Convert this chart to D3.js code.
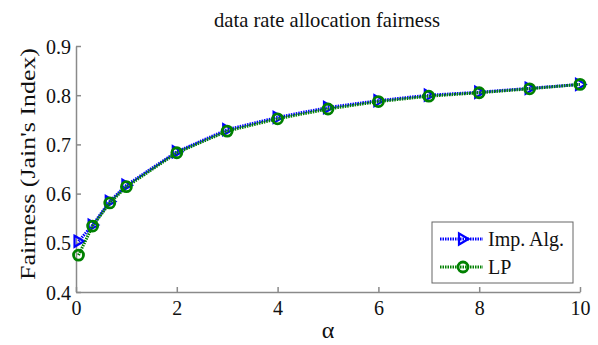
<!DOCTYPE html>
<html><head><meta charset="utf-8">
<script src="https://cdn.jsdelivr.net/npm/d3@7"></script>
<style>body{margin:0;background:#fff}svg{display:block}</style>
</head><body><svg id="c" width="598" height="345"></svg>
<script>
const alphas = [0.05, 0.33, 0.67, 1, 2, 3, 4, 5, 6, 7, 8, 9, 10];
const impAlg = [0.503, 0.536, 0.584, 0.617, 0.685, 0.730, 0.755, 0.775, 0.789, 0.800, 0.806, 0.814, 0.822];
const lp     = [0.475, 0.534, 0.581, 0.614, 0.683, 0.727, 0.752, 0.772, 0.787, 0.798, 0.805, 0.813, 0.822];
const xTicks = [0, 2, 4, 6, 8, 10];
const yTicks = [0.4, 0.5, 0.6, 0.7, 0.8, 0.9];

const FONT = "'Liberation Serif', 'Times New Roman', serif";
const svg = d3.select("#c");
const x = d3.scaleLinear().domain([0, 10]).range([76, 580]);
const y = d3.scaleLinear().domain([0.4, 0.9]).range([292, 46]);
const axisColor = "#8a8a8a";

function txt(sel, size) {
  return sel.style("font-family", FONT).style("font-size", size + "px").attr("fill", "#111");
}

const gx = svg.append("g").attr("transform", `translate(0,${y(0.4)})`)
  .call(d3.axisBottom(x).tickValues(xTicks).tickSizeInner(-5).tickSizeOuter(0).tickPadding(8).tickFormat(d3.format("d")));
const gy = svg.append("g").attr("transform", `translate(${x(0)},0)`)
  .call(d3.axisLeft(y).tickValues(yTicks).tickSizeInner(-5).tickSizeOuter(0).tickPadding(5).tickFormat(d3.format(".1f")));
[gx, gy].forEach(g => {
  g.attr("font-family", null).attr("font-size", null);
  g.selectAll("path,line").attr("stroke", axisColor).attr("stroke-width", 1.5);
  txt(g.selectAll("text"), 20);
});
gx.selectAll("text").attr("dy", "0.75em");
gy.selectAll("text").attr("dy", "0.35em");

txt(svg.append("text").attr("x", 327).attr("y", 27).attr("text-anchor", "middle")
  .attr("textLength", 226).attr("lengthAdjust", "spacingAndGlyphs"), 21)
  .text("data rate allocation fairness");
txt(svg.append("text").attr("x", 328).attr("y", 338).attr("text-anchor", "middle"), 24).text("α");
txt(svg.append("text").attr("transform", "translate(35,164) rotate(-90)").attr("text-anchor", "middle")
  .attr("textLength", 232).attr("lengthAdjust", "spacingAndGlyphs"), 21)
  .text("Fairness (Jain's Index)");

const line = d3.line().x(d => x(d[0])).y(d => y(d[1]));
const impData = alphas.map((a, i) => [a, impAlg[i]]);
const lpData = alphas.map((a, i) => [a, lp[i]]);
const blue = "#0000ff", green = "#008000";
const tri = "M-4,-5.5 L5.5,0 L-4,5.5 Z";

function drawSeries(data, color, marker) {
  svg.append("path").datum(data).attr("d", line).attr("fill", "none")
    .attr("stroke", color).attr("stroke-width", 3).attr("stroke-dasharray", "1.5,1");
  const g = svg.append("g");
  data.forEach(d => {
    if (marker === "tri") {
      g.append("path").attr("d", tri).attr("transform", `translate(${x(d[0])},${y(d[1])})`)
        .attr("fill", "none").attr("stroke", color).attr("stroke-width", 2.2);
    } else {
      g.append("circle").attr("cx", x(d[0])).attr("cy", y(d[1])).attr("r", 5)
        .attr("fill", "none").attr("stroke", color).attr("stroke-width", 2.8);
    }
  });
}
drawSeries(impData, blue, "tri");
drawSeries(lpData, green, "circ");

const lg = svg.append("g");
lg.append("rect").attr("x", 432).attr("y", 222).attr("width", 141).attr("height", 61)
  .attr("fill", "#fff").attr("stroke", "#666").attr("stroke-width", 1);
const items = [{name: "Imp. Alg.", color: blue, m: "tri"}, {name: "LP", color: green, m: "circ"}];
items.forEach((it, i) => {
  const yy = 239 + i * 28;
  lg.append("line").attr("x1", 440).attr("x2", 483).attr("y1", yy).attr("y2", yy)
    .attr("stroke", it.color).attr("stroke-width", 3).attr("stroke-dasharray", "1.5,1");
  if (it.m === "tri") {
    lg.append("path").attr("d", tri).attr("transform", `translate(463,${yy})`)
      .attr("fill", "none").attr("stroke", it.color).attr("stroke-width", 2.2);
  } else {
    lg.append("circle").attr("cx", 463).attr("cy", yy).attr("r", 5)
      .attr("fill", "none").attr("stroke", it.color).attr("stroke-width", 2.8);
  }
  txt(lg.append("text").attr("x", 488).attr("y", yy).attr("dy", "0.35em"), 20).text(it.name);
});
</script></body></html>
